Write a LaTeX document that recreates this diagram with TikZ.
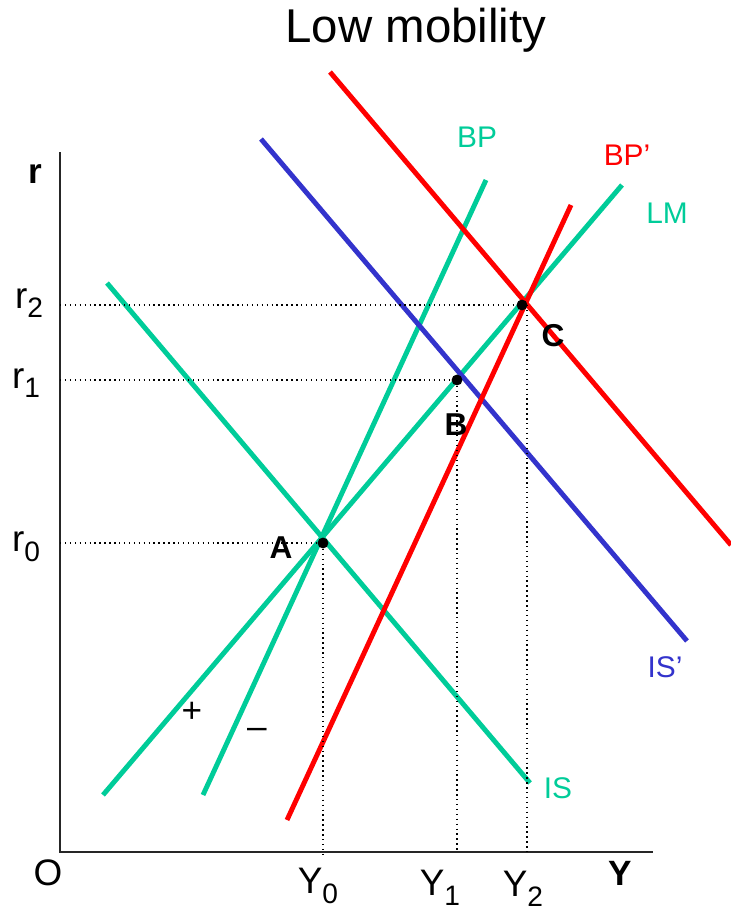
\documentclass[tikz,border=0pt]{standalone}
\usepackage{fontspec}
\setmainfont{Liberation Sans}
\usetikzlibrary{positioning}
\definecolor{isgreen}{RGB}{0,204,153}
\definecolor{isblue}{RGB}{51,51,204}
\definecolor{bpred}{RGB}{255,0,0}
\newcommand{\axsub}[2]{#1\raisebox{-0.5ex}{\fontsize{16}{18}\selectfont #2}}

\begin{document}
\begin{tikzpicture}[
        x=0.02cm, y=-0.02cm,
        curve/.style={line width=2.8pt, line cap=butt},
        axis/.style={line width=1.1pt, black!85},
        guide/.style={dotted, line width=0.8pt},
        dot/.style={circle, fill=black, inner sep=0pt, minimum size=6.2pt},
        lbl/.style={font=\fontsize{17}{20}\selectfont, inner sep=0pt},
        axlbl/.style={font=\fontsize{21}{24}\selectfont, inner sep=0pt},
        pt/.style={font=\fontsize{18}{20}\selectfont\bfseries, inner sep=0pt}
    ]
        \useasboundingbox (0,0) rectangle (731,914);

        % ================= TITLE =================
        \node[font=\fontsize{27}{30}\selectfont, inner sep=0pt] (title) at (416,30) {Low mobility};

        % ================= AXES =================
        \coordinate (origin) at (60,852);
        \coordinate (rtop) at (60,152);
        \coordinate (yend) at (653,852);
        \draw[axis] (rtop) -- (origin) -- (yend);

        \node[pt, font=\fontsize{20}{22}\selectfont\bfseries] (rlab) at (35,174) {r};
        \node[pt, font=\fontsize{20}{22}\selectfont\bfseries] (ylab) at (620,873) {Y};
        \node[axlbl] (olab) at (48,873) {O};

        % ================= CURVES =================
        % IS y LM, BP iniciales
        \coordinate (is1) at (107,283);   \coordinate (is2) at (530,783);
        \coordinate (lm1) at (103,795);   \coordinate (lm2) at (622,185);
        \coordinate (bp1) at (203,795);   \coordinate (bp2) at (486,180);
        % desplazadas
        \coordinate (isb1) at (261,139);  \coordinate (isb2) at (687,641);
        \coordinate (bpb1) at (287,820);  \coordinate (bpb2) at (571,205);
        \coordinate (isc1) at (330,72);   \coordinate (isc2) at (731,545);

        \draw[curve, isgreen] (is1) -- (is2);
        \draw[curve, isgreen] (lm1) -- (lm2);
        \draw[curve, isgreen] (bp1) -- (bp2);
        \draw[curve, bpred] (isc1) -- (isc2);
        \draw[curve, isblue] (isb1) -- (isb2);
        \draw[curve, bpred] (bpb1) -- (bpb2);

        \node[lbl, text=isgreen] (bplab) at (477,137) {BP};
        \node[lbl, text=bpred] (bpblab) at (627,155) {BP’};
        \node[lbl, text=isgreen] (lmlab) at (667,213) {LM};
        \node[lbl, text=isblue] (isblab) at (665,667) {IS’};
        \node[lbl, text=isgreen] (islab) at (558,788) {IS};
        \node[axlbl, font=\fontsize{20}{22}\selectfont] (plus) at (192,712) {+};
        \node[axlbl, font=\fontsize{20}{22}\selectfont] (minus) at (257,733) {–};

        % ================= EQUILIBRIA =================
        \node[dot] (A) at (323,543) {};
        \node[dot] (B) at (457,380) {};
        \node[dot] (C) at (522,305) {};
        \node[pt] (alab) at (281,548) {A};
        \node[pt] (blab) at (456,425) {B};
        \node[pt] (clab) at (553,336) {C};

        % guide lines
        \coordinate (r0ax) at (60,543);
        \coordinate (r1ax) at (60,380);
        \coordinate (r2ax) at (60,305);
        \coordinate (y0ax) at (323,858);
        \coordinate (y1ax) at (457,852);
        \coordinate (y2ax) at (527,852);
        \draw[guide] (r0ax) -- (A) -- (y0ax);
        \draw[guide] (r1ax) -- (B) -- (y1ax);
        \draw[guide] (r2ax) -- (C);
        \draw[guide] (527,305) -- (y2ax);

        \node[axlbl] (r0lab) at (26,547) {\axsub{r}{0}};
        \node[axlbl] (r1lab) at (26,383) {\axsub{r}{1}};
        \node[axlbl] (r2lab) at (29,303) {\axsub{r}{2}};
        \node[axlbl] (y0lab) at (318,886) {\axsub{Y}{0}};
        \node[axlbl] (y1lab) at (440,888) {\axsub{Y}{1}};
        \node[axlbl] (y2lab) at (523,889) {\axsub{Y}{2}};

    \end{tikzpicture}
\end{document}
